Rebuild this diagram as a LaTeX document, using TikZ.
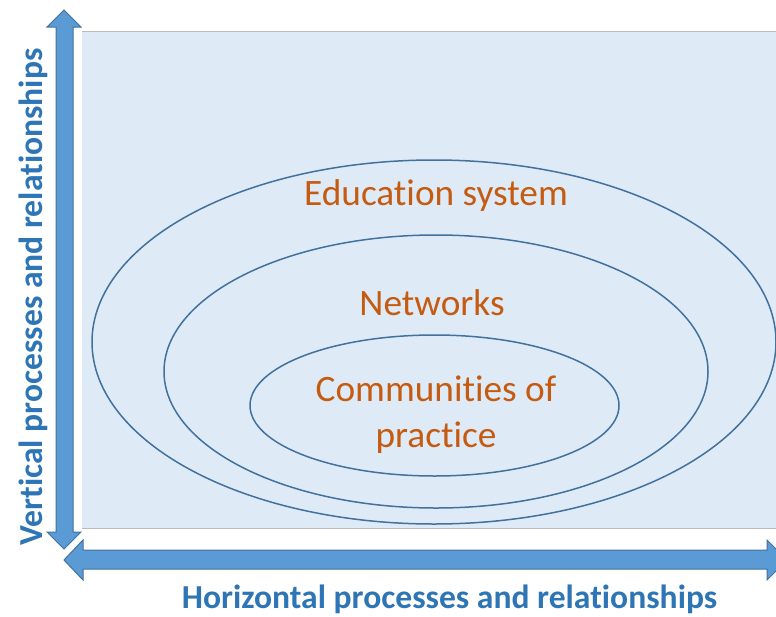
\documentclass[tikz,border=0pt]{standalone}
\usepackage{fontspec}
\setmainfont{Carlito}[Ligatures=NoCommon]
\definecolor{bgblue}{HTML}{DEEBF7}
\definecolor{arrowfill}{HTML}{5B9BD5}
\definecolor{arrowline}{HTML}{41719C}
\definecolor{ringline}{HTML}{41719C}
\definecolor{orangetxt}{HTML}{C55A11}
\definecolor{axistxt}{HTML}{2E75B6}
\begin{document}
\begin{tikzpicture}[x=1pt,y=-1pt,
  ring/.style={draw=ringline,line width=1.5pt},
  ringlabel/.style={text=orangetxt,font=\fontsize{37.3}{44}\selectfont,anchor=base,inner sep=0pt},
  axislabel/.style={text=axistxt,font=\fontsize{33.6}{40}\selectfont\bfseries,inner sep=0pt},
  bigarrow/.style={fill=arrowfill,draw=arrowline,line width=1pt,line join=miter}]
\useasboundingbox (0,0) rectangle (776,616);
% background panel
\fill[bgblue] (82,31) rectangle (790,528);
\draw[gray!55,line width=1pt] (82,31) -- (790,31);
\draw[gray!55,line width=1pt] (82,528) -- (790,528);
% ellipses
\draw[ring] (434,342) ellipse [x radius=342pt, y radius=182pt];
\draw[ring] (436,371.5) ellipse [x radius=272pt, y radius=136.5pt];
\draw[ring] (434.5,405.5) ellipse [x radius=184.5pt, y radius=70.5pt];
% labels
\node[ringlabel] (edu) at (436,205) {Education system};
\node[ringlabel] (net) at (432,315) {Networks};
\node[ringlabel] (cop1) at (436,401) {Communities of};
\node[ringlabel] (cop2) at (436,447) {practice};
% vertical double arrow
\path[bigarrow] (64,10) -- (81,27) -- (73,27) -- (73,532) -- (81,532) -- (64,549)
  -- (47,532) -- (56,532) -- (56,27) -- (47,27) -- cycle;
% horizontal double arrow
\path[bigarrow] (64,560) -- (83,540) -- (83,550) -- (767,550) -- (767,540) -- (787,560)
  -- (767,580) -- (767,569) -- (83,569) -- (83,580) -- cycle;
% axis labels
\node[axislabel,anchor=base] (hlab) at (449.5,608) {Horizontal processes and relationships};
\node[axislabel,anchor=base,rotate=90] (vlab) at (42,297) {Vertical processes and relationships};
\end{tikzpicture}
\end{document}
